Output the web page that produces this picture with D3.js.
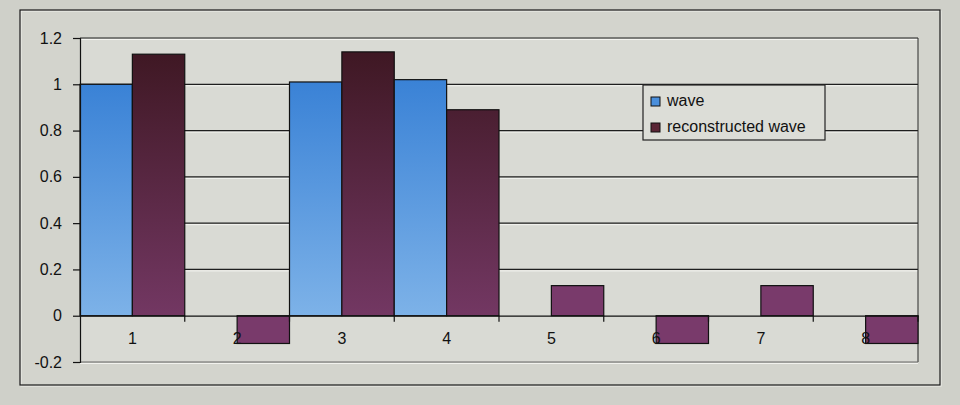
<!DOCTYPE html>
<html>
<head>
<meta charset="utf-8">
<script src="https://d3js.org/d3.v7.min.js"></script>
<style>
 body { margin: 0; background: #cfd0c9; }
 svg { display: block; font-family: "Liberation Sans", Arial, sans-serif; }
</style>
</head>
<body>
<svg width="960" height="405"></svg>
<script>
// data
var categories = ["1", "2", "3", "4", "5", "6", "7", "8"];
var wave = [1, 0, 1.01, 1.02, 0, 0, 0, 0];
var reconstructed = [1.13, -0.12, 1.14, 0.89, 0.13, -0.12, 0.13, -0.12];
var seriesNames = ["wave", "reconstructed wave"];
var yTicks = [-0.2, 0, 0.2, 0.4, 0.6, 0.8, 1, 1.2];

var svg = d3.select("svg"),
    width = +svg.attr("width"),
    height = +svg.attr("height");

var plot = {left: 80, right: 918, top: 38, bottom: 362};

// gradients for the bar fills
var defs = svg.append("defs");
var g1 = defs.append("linearGradient").attr("id", "gWave").attr("x1", 0).attr("y1", 0).attr("x2", 0).attr("y2", 1);
g1.append("stop").attr("offset", "0%").attr("stop-color", "#3a82d6");
g1.append("stop").attr("offset", "100%").attr("stop-color", "#7db2e8");
var g2 = defs.append("linearGradient").attr("id", "gRec").attr("x1", 0).attr("x2", 0)
    .attr("gradientUnits", "userSpaceOnUse").attr("y1", plot.top).attr("y2", plot.bottom);
g2.append("stop").attr("offset", "0%").attr("stop-color", "#3c1620");
g2.append("stop").attr("offset", "100%").attr("stop-color", "#7c3d6e");

// chart area frame
svg.append("rect").attr("x", 21).attr("y", 11).attr("width", 920).attr("height", 375)
  .attr("fill", "#d3d4cd").attr("stroke", "#f2f2ee").attr("stroke-width", 1);
svg.append("rect").attr("x", 20).attr("y", 10).attr("width", 920).attr("height", 375)
  .attr("fill", "none").attr("stroke", "#1a1a1a").attr("stroke-width", 1.2);

var x = d3.scaleBand().domain(categories).range([plot.left, plot.right]).padding(0);
var xSub = d3.scaleBand().domain(seriesNames).range([0, x.bandwidth()]).padding(0);
var y = d3.scaleLinear().domain([-0.2, 1.2]).range([plot.bottom, plot.top]);

// plot area
svg.append("rect").attr("x", plot.left).attr("y", plot.top)
  .attr("width", plot.right - plot.left).attr("height", plot.bottom - plot.top)
  .attr("fill", "#d9dad4");

// gridlines (dark with a light edge under them)
var grid = yTicks.filter(function(d){ return d > 0; });
svg.selectAll(".gridHi").data(grid).enter().append("line")
  .attr("x1", plot.left).attr("x2", plot.right)
  .attr("y1", function(d){ return y(d) + 1.5; }).attr("y2", function(d){ return y(d) + 1.5; })
  .attr("stroke", "#f4f4f0").attr("stroke-width", 1);
svg.selectAll(".grid").data(grid).enter().append("line")
  .attr("x1", plot.left).attr("x2", plot.right)
  .attr("y1", function(d){ return y(d); }).attr("y2", function(d){ return y(d); })
  .attr("stroke", "#1e1e1e").attr("stroke-width", 1.2);

// plot border right and bottom
svg.append("line").attr("x1", plot.right).attr("x2", plot.right).attr("y1", plot.top).attr("y2", plot.bottom)
  .attr("stroke", "#2a2a2a").attr("stroke-width", 1);
svg.append("line").attr("x1", plot.left).attr("x2", plot.right).attr("y1", plot.bottom).attr("y2", plot.bottom)
  .attr("stroke", "#666").attr("stroke-width", 1);
svg.append("line").attr("x1", plot.left).attr("x2", plot.right).attr("y1", plot.bottom + 1.5).attr("y2", plot.bottom + 1.5)
  .attr("stroke", "#f2f2ee").attr("stroke-width", 1);

// bars
var rows = categories.map(function(c, i){ return {cat: c, values: [wave[i], reconstructed[i]]}; });
var cat = svg.selectAll(".cat").data(rows).enter().append("g")
  .attr("transform", function(d){ return "translate(" + x(d.cat) + ",0)"; });
cat.selectAll("rect").data(function(d){
    return d.values.map(function(v, k){ return {name: seriesNames[k], v: v}; }).filter(function(e){ return e.v !== 0; });
  }).enter().append("rect")
  .attr("x", function(d){ return xSub(d.name); })
  .attr("width", xSub.bandwidth())
  .attr("y", function(d){ return y(Math.max(0, d.v)); })
  .attr("height", function(d){ return Math.abs(y(d.v) - y(0)); })
  .attr("fill", function(d){ return d.name === "wave" ? "url(#gWave)" : (Math.abs(d.v) < 0.5 ? "#793a6b" : "url(#gRec)"); })
  .attr("stroke", "#111").attr("stroke-width", 1.2);

// y axis
var yAxis = svg.append("g").attr("transform", "translate(" + plot.left + ",0)")
  .call(d3.axisLeft(y).tickValues(yTicks).tickSize(7).tickPadding(11)
  .tickFormat(function(d){ return String(+d.toFixed(1)); }));
yAxis.select(".domain").attr("stroke", "#111").attr("stroke-width", 1.2);
yAxis.selectAll(".tick line").attr("stroke", "#111").attr("stroke-width", 1.2);
yAxis.selectAll("text").attr("font-size", 16).attr("fill", "#111").attr("font-family", "Liberation Sans, Arial, sans-serif");

// x axis on the zero line
var xAxis = svg.append("g").attr("transform", "translate(0," + y(0) + ")")
  .call(d3.axisBottom(x).tickSize(0).tickPadding(17));
xAxis.select(".domain").attr("stroke", "#111").attr("stroke-width", 1.2);
xAxis.selectAll("text").attr("font-size", 16).attr("fill", "#111").attr("font-family", "Liberation Sans, Arial, sans-serif");
svg.append("g").selectAll("line").data(categories).enter().append("line")
  .attr("x1", function(d){ return x(d) + x.bandwidth(); }).attr("x2", function(d){ return x(d) + x.bandwidth(); })
  .attr("y1", y(0)).attr("y2", y(0) + 6).attr("stroke", "#111").attr("stroke-width", 1.2);

// legend
var leg = svg.append("g").attr("transform", "translate(643,85)");
leg.append("rect").attr("width", 182).attr("height", 55)
  .attr("fill", "#dcddd7").attr("stroke", "#222").attr("stroke-width", 1.2);
var legFills = ["#4a8fdc", "#5a2535"];
seriesNames.forEach(function(n, i){
  leg.append("rect").attr("x", 8).attr("y", 12 + i * 26).attr("width", 9).attr("height", 9)
    .attr("fill", legFills[i]).attr("stroke", "#111").attr("stroke-width", 1);
  leg.append("text").attr("x", 24).attr("y", 21 + i * 26).text(n)
    .attr("font-size", 16).attr("fill", "#111");
});
</script>
</body>
</html>
